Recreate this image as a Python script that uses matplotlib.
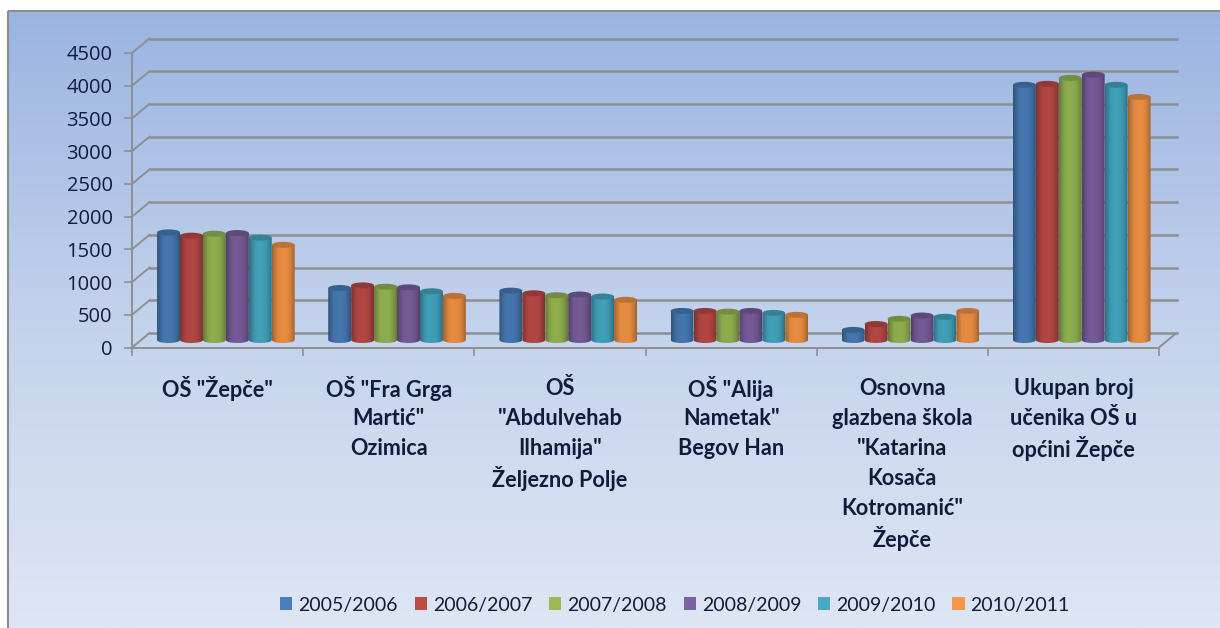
import numpy as np
import matplotlib
matplotlib.use("Agg")
import matplotlib.pyplot as plt
from matplotlib.colors import to_rgb, LinearSegmentedColormap
from matplotlib.patches import Ellipse, Patch, Rectangle, Polygon

# Podaci
categories = [
    ['OŠ "Žepče"'],
    ['OŠ "Fra Grga', 'Martić"', 'Ozimica'],
    ['OŠ', '"Abdulvehab', 'Ilhamija"', 'Željezno Polje'],
    ['OŠ "Alija', 'Nametak"', 'Begov Han'],
    ['Osnovna', 'glazbena škola', '"Katarina', 'Kosača', 'Kotromanić"', 'Žepče'],
    ['Ukupan broj', 'učenika OŠ u', 'općini Žepče'],
]
years = ["2005/2006", "2006/2007", "2007/2008", "2008/2009", "2009/2010", "2010/2011"]
v_2005 = [1690, 840, 800, 490, 200, 3945]
v_2006 = [1640, 880, 760, 490, 290, 3960]
v_2007 = [1670, 860, 730, 480, 370, 4050]
v_2008 = [1680, 850, 740, 490, 420, 4100]
v_2009 = [1610, 790, 710, 460, 400, 3945]
v_2010 = [1500, 720, 660, 430, 490, 3760]
series = [v_2005, v_2006, v_2007, v_2008, v_2009, v_2010]
colors = ["#4A7EBB", "#BE4B48", "#98B954", "#7D60A0", "#46AAC5", "#F79646"]
y_ticks = [0, 500, 1000, 1500, 2000, 2500, 3000, 3500, 4000, 4500]

W, H = 1220, 628
grid_col = "#8f8f8f"
text_col = "#101c3c"

fig = plt.figure(figsize=(W / 100, H / 100), dpi=100, facecolor="white")

# Pozadina s gradijentom
bg = fig.add_axes([0, 0, 1, 1], zorder=0)
bg.set_axis_off()
grad = LinearSegmentedColormap.from_list("bg", ["#9AB4E2", "#C3D2EC", "#DEE6F5"])
bg.imshow(np.linspace(0, 1, 256).reshape(-1, 1), cmap=grad, extent=[8, W, H, 11], aspect="auto")
bg.add_patch(Rectangle((8, 11), W, H, fill=False, ec="#8c8c8c", lw=1.5))
bg.set_xlim(0, W)
bg.set_ylim(H, 0)

# Glavne osi (prednja ravnina grafa)
ax = fig.add_axes([132 / W, (H - 347.5) / H, 1027 / W, 294.5 / H], zorder=1)
ax.patch.set_alpha(0)
ax.set_xlim(0, 6)
ax.set_ylim(0, 4500)
for s in ["top", "right"]:
    ax.spines[s].set_visible(False)
for s in ["left", "bottom"]:
    ax.spines[s].set_color(grid_col)
    ax.spines[s].set_linewidth(1.4)

px_x = 6 / 1027
px_y = 4500 / 294.5
dx = 17.5 * px_x
dy = 14.5 * px_y

# Stražnja mreža i dijagonale
for t in y_ticks:
    ax.plot([dx, 6 + dx], [t + dy, t + dy], color=grid_col, lw=1.8, clip_on=False, zorder=1)
    ax.plot([0, dx], [t, t + dy], color=grid_col, lw=1.4, clip_on=False, zorder=1)
ax.plot([6, 6 + dx], [0, dy], color=grid_col, lw=1.4, clip_on=False, zorder=1)

ax.set_yticks(y_ticks)
ax.set_yticklabels([str(t) for t in y_ticks], fontsize=14.5, color=text_col, family="Open Sans")
ax.set_xticks(range(7))
ax.set_xticklabels([])
ax.tick_params(axis="both", color=grid_col, width=1.2, length=6, pad=8)

# Valjci
bar_w = 0.134
off_x = 8.3 * px_x
off_y = 4.5 * px_y
ell_h = 6 * px_y
shade = np.array([0.7, 0.85, 0.97, 1.0, 1.0, 1.0, 0.95, 0.86, 0.7])
xs_fine = np.linspace(0, 1, 64)
profile = np.interp(xs_fine, np.linspace(0, 1, len(shade)), shade)

for k, (vals, col) in enumerate(zip(series, colors)):
    rgb = np.array(to_rgb(col)) * 0.93
    img = np.clip(profile[None, :, None] * rgb[None, None, :], 0, 1)
    for i, v in enumerate(vals):
        x0 = i + 0.5 + off_x + (k - 3) * bar_w
        x1 = x0 + bar_w
        xc = x0 + bar_w / 2
        top = v + off_y
        base = off_y + 3 * px_y
        th = np.linspace(np.pi, 2 * np.pi, 30)
        low = np.column_stack([xc + bar_w / 2 * np.cos(th), base + ell_h / 2 * np.sin(th)])
        upp = np.array([[x1, top], [x0, top]])
        clip = Polygon(np.vstack([low, upp]), closed=True, transform=ax.transData)
        im = ax.imshow(img, extent=[x0, x1, base - ell_h, top], aspect="auto", zorder=3 + k)
        im.set_clip_path(clip)
        ax.add_patch(Ellipse((xc, top), bar_w, ell_h, fc=rgb * 0.82, ec="none", zorder=3 + k, clip_on=False))
ax.set_xlim(0, 6)
ax.set_ylim(0, 4500)

# Nazivi kategorija
for i, lines in enumerate(categories):
    for j, line in enumerate(lines):
        ax.annotate(line, xy=(i + 0.5, 0), xytext=(0, -41 - j * 30), textcoords="offset pixels",
                    ha="center", va="center", fontsize=15.6, fontweight="bold",
                    family="Lato", color=text_col, annotation_clip=False)

# Legenda
handles = [Patch(fc=c, ec="none") for c in colors]
fig.legend(handles, years, loc="center", bbox_to_anchor=(675 / W, (H - 605) / H), ncol=6, frameon=False,
           prop={"family": "Lato", "size": 14}, labelcolor=text_col, handlelength=0.62, handleheight=0.62,
           handletextpad=0.31, columnspacing=0.87, borderpad=0)

fig.savefig("out.png", dpi=100)
